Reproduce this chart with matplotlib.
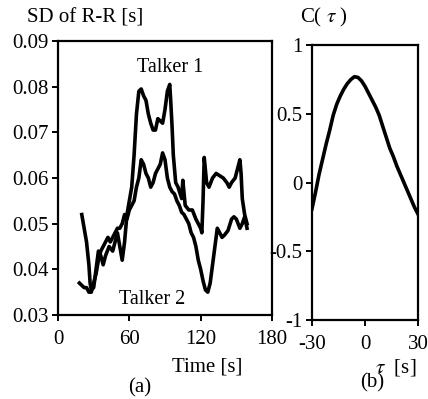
import matplotlib
matplotlib.use("Agg")
import matplotlib.pyplot as plt

plt.rcParams['font.family'] = ['Liberation Serif', 'DejaVu Serif']
plt.rcParams['mathtext.fontset'] = 'stix'
plt.rcParams['axes.unicode_minus'] = False

# (a) SD of R-R interval for both talkers
t1 = [20, 22, 24, 26, 27, 28, 30, 32, 34, 36, 38, 40, 43, 46, 48, 50, 52, 54, 56,
      58, 60, 62, 64, 66, 68, 70, 72, 74, 76, 78, 80, 82, 84, 86, 88, 90, 92, 94,
      95, 96, 97, 99, 101, 104, 105, 107, 110, 113, 116, 118, 120, 121, 122, 123,
      125, 127, 130, 133, 136, 139, 142, 144, 146, 149, 151, 153, 154, 155, 157, 159]
sd1 = [0.052, 0.049, 0.046, 0.041, 0.037, 0.0355, 0.036, 0.040, 0.044, 0.043, 0.041,
       0.043, 0.045, 0.044, 0.046, 0.048, 0.045, 0.042, 0.046, 0.052, 0.055, 0.058,
       0.065, 0.074, 0.079, 0.0795, 0.078, 0.077, 0.074, 0.072, 0.0705, 0.0705, 0.073,
       0.0725, 0.072, 0.075, 0.079, 0.0805, 0.076, 0.071, 0.065, 0.059, 0.058, 0.0555,
       0.0595, 0.054, 0.053, 0.053, 0.051, 0.050, 0.049, 0.048, 0.055, 0.0645, 0.059,
       0.058, 0.060, 0.061, 0.0605, 0.060, 0.059, 0.058, 0.059, 0.060, 0.062, 0.064,
       0.061, 0.0555, 0.052, 0.050]

t2 = [18, 20, 22, 24, 26, 28, 30, 32, 34, 36, 38, 40, 42, 44, 46, 48, 50, 52, 54, 56,
      58, 60, 62, 64, 66, 68, 70, 72, 74, 76, 78, 80, 82, 84, 86, 88, 90, 92, 94, 96,
      98, 100, 102, 104, 106, 108, 110, 112, 114, 116, 118, 120, 122, 124, 126, 128,
      130, 132, 134, 136, 138, 140, 143, 146, 148, 150, 153, 155, 157, 159]
sd2 = [0.037, 0.0365, 0.036, 0.036, 0.035, 0.035, 0.037, 0.039, 0.042, 0.044, 0.045,
       0.046, 0.047, 0.046, 0.047, 0.048, 0.049, 0.049, 0.050, 0.052, 0.051, 0.053,
       0.054, 0.055, 0.058, 0.060, 0.064, 0.063, 0.061, 0.060, 0.058, 0.059, 0.061,
       0.062, 0.063, 0.0655, 0.064, 0.060, 0.058, 0.057, 0.0565, 0.055, 0.054, 0.0525,
       0.052, 0.051, 0.050, 0.048, 0.047, 0.045, 0.042, 0.040, 0.0375, 0.0355, 0.035,
       0.037, 0.041, 0.045, 0.049, 0.048, 0.047, 0.0475, 0.0485, 0.051, 0.0515, 0.051,
       0.049, 0.050, 0.0515, 0.049]

# (b) cross-correlation
tau = [-30, -28, -26, -24, -22, -20, -18, -16, -14, -12, -10, -8, -6, -4, -2, 0,
       2, 4, 6, 8, 10, 12, 14, 16, 18, 20, 22, 24, 26, 28, 30]
corr = [-0.19, -0.07, 0.06, 0.17, 0.28, 0.38, 0.49, 0.57, 0.63, 0.68, 0.72, 0.75,
        0.77, 0.765, 0.74, 0.70, 0.65, 0.60, 0.55, 0.49, 0.41, 0.33, 0.25, 0.19,
        0.12, 0.06, 0.00, -0.06, -0.12, -0.18, -0.23]

fs = 15
fig = plt.figure(figsize=(4.28, 3.99), dpi=100)

ax1 = fig.add_axes([0.1355, 0.2105, 0.5, 0.6867])
ax1.plot(t1, sd1, color='black', lw=2.6)
ax1.plot(t2, sd2, color='black', lw=2.6)
ax1.set_xlim(0, 180)
ax1.set_ylim(0.03, 0.09)
ax1.set_xticks([0, 60, 120, 180])
ax1.set_yticks([0.03, 0.04, 0.05, 0.06, 0.07, 0.08, 0.09])
ax1.set_yticklabels(['0.03', '0.04', '0.05', '0.06', '0.07', '0.08', '0.09'])
ax1.text(94, 0.0842, 'Talker 1', ha='center', va='center', fontsize=14.5)
ax1.text(79, 0.0333, 'Talker 2', ha='center', va='center', fontsize=14.5)

ax2 = fig.add_axes([0.729, 0.198, 0.2477, 0.689])
ax2.plot(tau, corr, color='black', lw=2.6)
ax2.set_xlim(-30, 30)
ax2.set_ylim(-1, 1)
ax2.set_xticks([-30, 0, 30])
ax2.set_yticks([-1, -0.5, 0, 0.5, 1])
ax2.set_yticklabels(['-1', '-0.5', '0', '0.5', '1'])

for ax in (ax1, ax2):
    for s in ax.spines.values():
        s.set_linewidth(1.6)
    ax.tick_params(direction='out', length=4, width=1.4, labelsize=fs, pad=3)
    ax.tick_params(axis='x', pad=7)

fig.text(0.063, 0.955, 'SD of R-R [s]', fontsize=fs, ha='left', va='center')
fig.text(0.70, 0.955, r'C( $\tau$ )', fontsize=fs, ha='left', va='center')
fig.text(0.484, 0.08, 'Time [s]', fontsize=fs, ha='center', va='center')
fig.text(0.327, 0.028, '(a)', fontsize=fs, ha='center', va='center')
fig.text(0.925, 0.08, r'$\tau$  [s]', fontsize=fs, ha='center', va='center')
fig.text(0.869, 0.04, '(b)', fontsize=fs, ha='center', va='center')

fig.savefig('out.png', dpi=100, facecolor='white')
